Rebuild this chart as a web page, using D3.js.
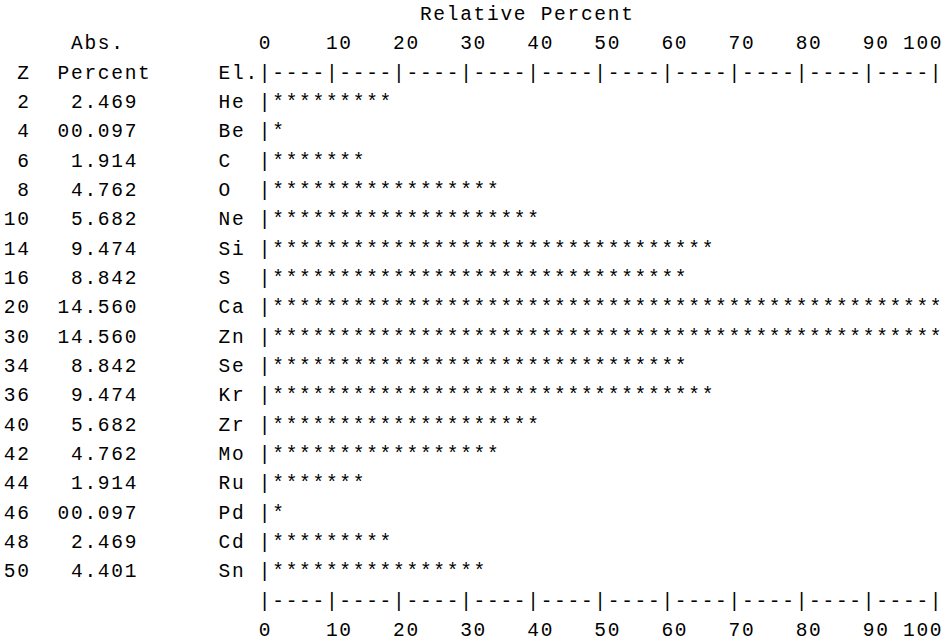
<!DOCTYPE html>
<html>
<head>
<meta charset="utf-8">
<script src="https://cdn.jsdelivr.net/npm/d3@7"></script>
<style>
  html, body { margin: 0; padding: 0; background: #fff; }
  svg { display: block; }
  text { font-family: "Liberation Mono", "Courier New", monospace; fill: #000; }
</style>
</head>
<body>
<svg id="chart" width="941" height="641"></svg>
<script>
// ---- data ----
const atomicNumbers = [2, 4, 6, 8, 10, 14, 16, 20, 30, 34, 36, 40, 42, 44, 46, 48, 50];
const elements = ["He", "Be", "C", "O", "Ne", "Si", "S", "Ca", "Zn", "Se", "Kr", "Zr", "Mo", "Ru", "Pd", "Cd", "Sn"];
const absPercent = [2.469, 0.097, 1.914, 4.762, 5.682, 9.474, 8.842, 14.560, 14.560, 8.842, 9.474, 5.682, 4.762, 1.914, 0.097, 2.469, 4.401];
const tickValues = [0, 10, 20, 30, 40, 50, 60, 70, 80, 90, 100];
const title = "Relative Percent";
const headers = { abs1: "Abs.", z: "Z", abs2: "Percent", el: "El." };

// ---- layout (character grid) ----
const charW = 13.42;
const fontSize = 19.5;
const x0 = 3;
const lineH = 29.35;
const y0 = 13;     // centre of first text line

const svg = d3.select("#chart");
// column index -> left edge x of the character cell
const col = d3.scaleLinear().domain([0, 1]).range([x0, x0 + charW]);
// line index -> text baseline
const base = y0 + fontSize * 0.35;
const line = d3.scaleLinear().domain([0, 1]).range([base, base + lineH]);

const axisCol = 19;          // column of the "|" for 0 %
const relToCols = d3.scaleLinear().domain([0, 100]).range([0, 50]);  // 2 % per character

const maxAbs = d3.max(absPercent);
const relative = absPercent.map(v => v / maxAbs * 100);

const fmt = v => v < 1 ? d3.format("06.3f")(v) : d3.format(".3f")(v);

// place a string on the grid, each character centred in its own cell
function put(str, c, l, anchor) {
  const start = anchor === "end" ? c - str.length : c;
  const xs = d3.range(str.length).map(k => (col(start + k) + col(start + k + 1)) / 2);
  svg.append("text")
    .attr("x", xs.join(" "))
    .attr("y", line(l))
    .attr("font-size", fontSize)
    .attr("text-anchor", "middle")
    .text(str);
}

// title
put(title, 31, 0);

// axis strings
const axisChars = d3.range(51).map(() => "-");
tickValues.forEach(t => { axisChars[Math.round(relToCols(t))] = "|"; });
const axisString = axisChars.join("");

function tickLabels(l) {
  tickValues.forEach((t, i) => {
    const c = axisCol + relToCols(t);
    if (i === tickValues.length - 1) put(String(t), c + 1, l, "end");
    else put(String(t), c, l, "start");
  });
}

// top axis
put(headers.abs1, 5, 1);
tickLabels(1);
put(headers.z, 1, 2);
put(headers.abs2, 4, 2);
put(headers.el, 16, 2);
put(axisString, axisCol, 2);

// rows
elements.forEach((el, i) => {
  const l = 3 + i;
  put(String(atomicNumbers[i]), 2, l, "end");
  put(fmt(absPercent[i]), 10, l, "end");
  put(el, 16, l);
  const n = Math.ceil(relToCols(relative[i]) - 1e-9);
  put("|" + "*".repeat(n), axisCol, l);
});

// bottom axis
const lastRow = 3 + elements.length;
put(axisString, axisCol, lastRow);
tickLabels(lastRow + 1);
</script>
</body>
</html>
